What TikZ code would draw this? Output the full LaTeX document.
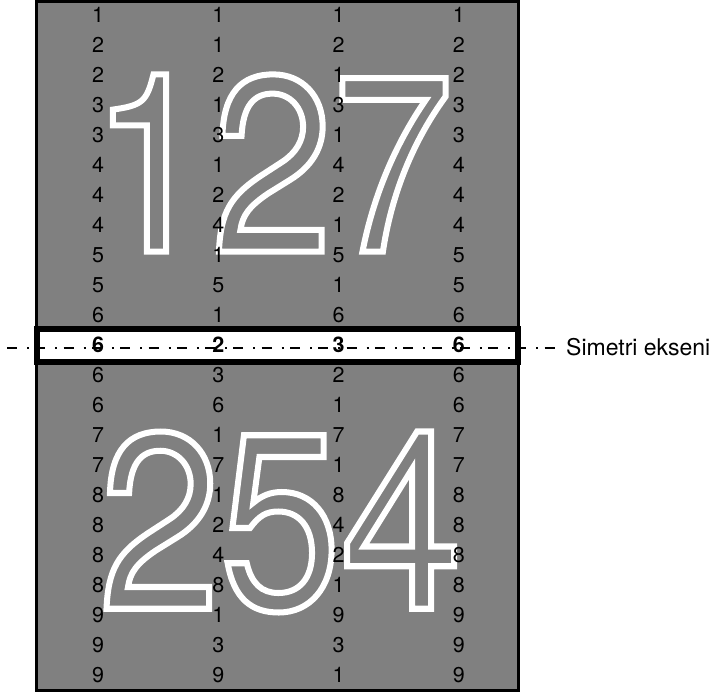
\documentclass[tikz,border=0pt]{standalone}
\usepackage{fontspec}
\setmainfont{TeX Gyre Heros}
\newfontfamily\bigdigits[FakeStretch=0.87]{TeX Gyre Heros}
\usepackage{tikz}
\definecolor{panel}{HTML}{808080}
\tikzset{
  panel/.style={fill=panel,draw=black,line width=3pt},
  digit/.style={font=\fontsize{21.5}{24}\selectfont,inner sep=0pt},
  keydigit/.style={digit,font=\fontsize{21.5}{24}\selectfont\bfseries},
  bignum/.style={inner sep=0pt,text=white,font=\fontsize{250}{250}\bigdigits},
  keyrow/.style={draw=black,fill=white,line width=6pt,inner sep=0pt,minimum width=481pt,minimum height=33pt},
  axis/.style={line width=1.5pt,dash pattern=on 10pt off 10pt on 2pt off 6.3pt},
  lab/.style={font=\fontsize{23}{26}\selectfont,inner sep=0pt},
}
\newcommand\outlined[1]{\special{pdf:code 1 Tr 6 w 1 1 1 RG}#1\special{pdf:code 0 Tr}}

\begin{document}
\begin{tikzpicture}[x=1pt,y=-1pt]
\useasboundingbox (0,0) rectangle (722,696);
\path[panel] (36.5,1.5) rectangle (518.5,690.5);
% outlined numbers
\node[bignum] (top) at (272,163) {\outlined{127}};
\node[bignum] (bot) at (280.5,522) {\outlined{254}};
% digit columns
\foreach \c/\vals in {1/{1,2,2,3,3,4,4,4,5,5,6,6,6,6,7,7,8,8,8,8,9,9,9},
                      2/{1,1,2,1,3,1,2,4,1,5,1,2,3,6,1,7,1,2,4,8,1,3,9},
                      3/{1,2,1,3,1,4,2,1,5,1,6,3,2,1,7,1,8,4,2,1,9,3,1},
                      4/{1,2,2,3,3,4,4,4,5,5,6,6,6,6,7,7,8,8,8,8,9,9,9}}
  \foreach \v [count=\r] in \vals {%
    \ifnum\r=12 \else
      \node[digit] (c\c r\r) at ({98+120.3*(\c-1)},{15+30*(\r-1)}) {\v};
    \fi}
% symmetry row
\node[keyrow] (key) at (277.5,345.5) {};
\coordinate (axL) at (7,348);
\node[lab,anchor=west] (lbl) at (566,347) {Simetri ekseni};
\draw[axis,shorten >=11pt] (axL) -- (axL -| lbl.west);
\foreach \c/\v in {1/6,2/2,3/3,4/6}
  \node[keydigit] (c\c r12) at ({98+120.3*(\c-1)},345) {\v};
\end{tikzpicture}
\end{document}
